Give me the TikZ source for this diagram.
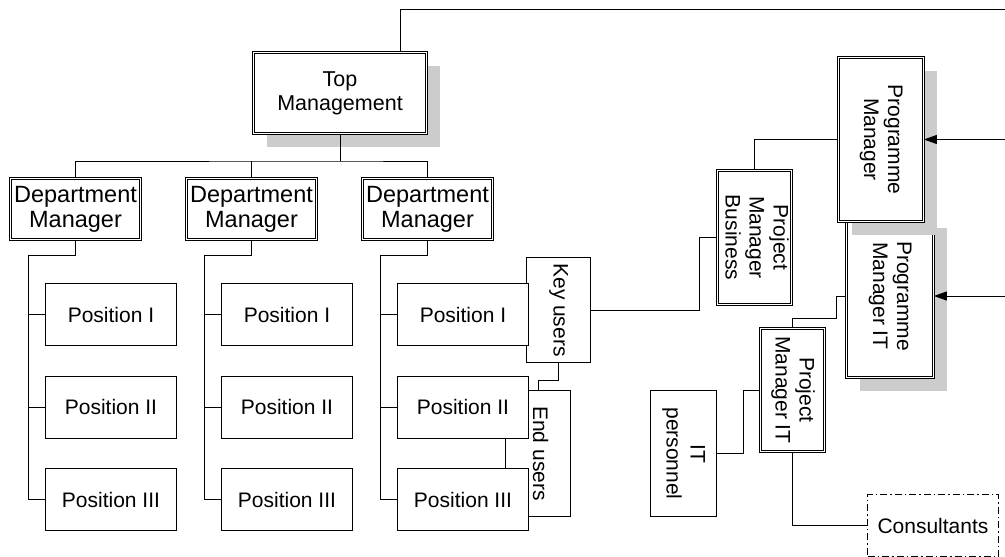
\documentclass[tikz,border=0pt]{standalone}
\usepackage{fontspec}
\setmainfont{Liberation Sans}
\usetikzlibrary{arrows.meta,shadows}
\definecolor{shadowgray}{RGB}{204,204,204}
% rotated, multi-line label for the upright boxes
\newcommand\sidetext[1]{\rotatebox{-90}{\begin{tabular}{@{}c@{}}#1\end{tabular}}}
\begin{document}
\begin{tikzpicture}[x=1pt,y=-1pt,line width=1pt,
  box/.style={draw=black, fill=white, rectangle, inner sep=0pt, align=center,
    font=\fontsize{21}{24}\selectfont},
  dbox/.style={box, line width=0.8pt, double=white, double distance=1.6pt},
  shade/.style={drop shadow={shadow xshift=13pt, shadow yshift=-13pt,
    fill=shadowgray, opacity=1}},
  sz/.style 2 args={minimum width=#1pt, minimum height=#2pt},
  dept/.style={dbox, sz={130}{61}, font=\fontsize{23.5}{25}\selectfont},
  posbox/.style={box, sz={131}{62}},
  wire/.style={draw=black, line width=1pt},
  tip/.style={wire, -{Triangle[length=13pt,width=9pt]}}
]
\useasboundingbox (0,0) rectangle (1005,557);

% management hierarchy
\node[dbox, shade, sz={173}{81}, font=\fontsize{21.5}{24}\selectfont] (tm) at (340,93) {Top\\Management};
\node[dept] (dm1) at (75.5,209) {Department\\Manager};
\node[dept] (dm2) at (251.5,209) {Department\\Manager};
\node[dept] (dm3) at (427.5,209) {Department\\Manager};

% user groups sit behind the third column of positions
\node[box, sz={65}{126}] (eu) at (538,453.5) {\sidetext{End users}};
\node[box, sz={64}{105}] (ku) at (558.5,310) {\sidetext{Key users}};

% positions
\node[posbox] (p11) at (111,314.5) {Position I};
\node[posbox] (p12) at (111,407) {Position II};
\node[posbox] (p13) at (111,499.5) {Position III};
\node[posbox] (p21) at (287,314.5) {Position I};
\node[posbox] (p22) at (287,407) {Position II};
\node[posbox] (p23) at (287,499.5) {Position III};
\node[posbox] (p31) at (463,314.5) {Position I};
\node[posbox] (p32) at (463,407) {Position II};
\node[posbox] (p33) at (463,499.5) {Position III};

% programme organisation
\node[dbox, sz={74}{134}] (pmb) at (754.5,237.5) {\sidetext{Project\\Manager\\Business}};
\node[dbox, shade, sz={87}{163}] (pmit) at (890,296) {\sidetext{Programme\\Manager IT}};
\node[dbox, shade, sz={85}{164}] (pm) at (881,139.5) {\sidetext{Programme\\Manager}};
\node[dbox, sz={64}{123}] (pjit) at (792.5,390) {\sidetext{Project\\Manager IT}};
\node[box, sz={66}{126}] (itp) at (683.5,453.5) {\sidetext{IT\\personnel}};
\node[box, sz={131}{62}, dash pattern=on 7pt off 3pt on 1.5pt off 3pt] (cons) at (933,525.5) {Consultants};

% connectors
\coordinate (corner) at (1005,9);
\draw[wire] ([xshift=60pt]tm.north) |- (corner);
\coordinate (bus) at (340,161);
\draw[wire] (tm.south) -- (bus);
\draw[wire] (dm1.north) |- (bus) -| (dm3.north);
\draw[wire] (dm2.north) -- (dm2.north |- bus);

\draw[wire] (dm1.south) |- ++(-47,16) |- (p13.west);
\draw[wire] (p11.west) -- ++(-16,0);
\draw[wire] (p12.west) -- ++(-16,0);
\draw[wire] (dm2.south) |- ++(-47,16) |- (p23.west);
\draw[wire] (p21.west) -- ++(-16,0);
\draw[wire] (p22.west) -- ++(-16,0);
\draw[wire] (dm3.south) |- ++(-47,16) |- (p33.west);
\draw[wire] (p31.west) -- ++(-16,0);
\draw[wire] (p32.west) -- ++(-16,0);

\draw[wire] (ku.south) -- ++(0,17) -| (eu.north);
\draw[wire] (ku.east) -- ++(108,0) |- (pmb.west);
\draw[wire] (pmb.north) |- (pm.west);
\draw[wire] (pmit.west) -- ++(-10,0) |- ([yshift=10pt]pjit.north) -- (pjit.north);
\draw[wire] (itp.east) -- ++(26,0) |- (pjit.west);
\draw[wire] (pjit.south) |- (cons.west);

\coordinate (feedA) at (1005,139.5);
\coordinate (feedB) at (1005,296);
\draw[tip] (feedA) -- (pm.east);
\draw[tip] (feedB) -- (pmit.east);
\end{tikzpicture}
\end{document}
